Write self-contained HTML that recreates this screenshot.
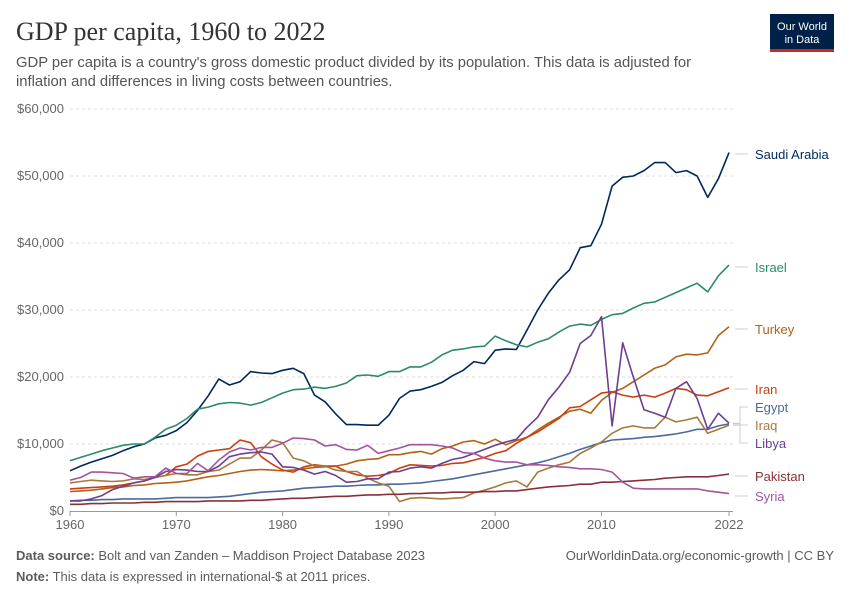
<!DOCTYPE html>
<html><head><meta charset="utf-8">
<style>
body{margin:0;background:#fff;width:850px;height:600px;overflow:hidden;font-family:"Liberation Sans",sans-serif;}
svg text{font-family:"Liberation Sans",sans-serif;}
svg text.serif{font-family:"Liberation Serif",serif;}
</style></head>
<body>
<svg id="chart" width="850" height="600" viewBox="0 0 850 600">
<text class="serif" x="16" y="40" font-size="26" fill="#333" style="font-family:'Liberation Serif',serif">GDP per capita, 1960 to 2022</text>
<text x="16" y="67" font-size="14.8" fill="#555">GDP per capita is a country's gross domestic product divided by its population. This data is adjusted for</text>
<text x="16" y="86" font-size="14.8" fill="#555">inflation and differences in living costs between countries.</text>
<g>
<rect x="770" y="14" width="64" height="38" fill="#002147"/>
<rect x="770" y="49" width="64" height="3" fill="#ce261e"/>
<text x="802" y="30" font-size="11" fill="#fff" text-anchor="middle">Our World</text>
<text x="802" y="43" font-size="11" fill="#fff" text-anchor="middle">in Data</text>
</g>
<g id="grid"></g><g id="series"></g><g id="labels"></g>
<text x="16" y="560" font-size="13" fill="#5b5b5b"><tspan font-weight="bold">Data source:</tspan> Bolt and van Zanden – Maddison Project Database 2023</text>
<text x="16" y="581" font-size="13" fill="#5b5b5b"><tspan font-weight="bold">Note:</tspan> This data is expressed in international-$ at 2011 prices.</text>
<text x="834" y="560" font-size="13" fill="#5b5b5b" text-anchor="end">OurWorldinData.org/economic-growth | CC BY</text>
</svg>
<script>
const startYear = 1960;
const yTicks = [0,10000,20000,30000,40000,50000,60000];
const yTickLabels = ["$0","$10,000","$20,000","$30,000","$40,000","$50,000","$60,000"];
const xTicks = [1960,1970,1980,1990,2000,2010,2022];
const saudi = [6000,6700,7300,7800,8300,9000,9600,10000,10900,11300,12000,13200,15000,17200,19700,18800,19300,20800,20600,20500,21000,21300,20500,17300,16300,14500,12900,12900,12800,12800,14300,16800,17900,18100,18600,19200,20200,21000,22300,22000,24000,24200,24100,27000,30000,32500,34500,36000,39300,39600,42800,48500,49800,50000,50800,52000,52000,50500,50800,50000,46800,49600,53500];
const israel = [7500,8000,8500,9000,9400,9800,10000,10000,11000,12200,12800,13800,15200,15500,16000,16200,16100,15800,16200,16900,17600,18100,18200,18500,18300,18600,19100,20200,20300,20100,20800,20800,21500,21500,22200,23300,24000,24200,24500,24600,26100,25400,24800,24500,25200,25700,26700,27600,27900,27700,28600,29300,29500,30300,31000,31200,31900,32600,33300,34000,32700,35100,36700];
const turkey = [2900,3000,3100,3300,3500,3600,3800,3900,4100,4200,4300,4500,4800,5100,5300,5600,5900,6100,6200,6100,6000,6100,6300,6500,6600,6700,7000,7500,7700,7800,8400,8400,8700,8900,8500,9300,9700,10300,10500,10000,10700,9900,10500,11000,12100,13100,14000,14900,15200,14600,16500,17700,18300,19300,20300,21300,21800,23000,23400,23300,23600,26200,27500];
const iran = [3300,3400,3500,3600,3700,3900,4200,4500,5000,5300,6600,7000,8200,8900,9100,9300,10600,10200,8100,7000,6100,5800,6600,6900,6700,6700,5900,5400,5200,5300,5600,6400,6900,6800,6700,6800,7100,7200,7600,8000,8600,9000,10100,11000,11800,12800,13800,15400,15600,16600,17600,17800,17300,17000,17300,17000,17600,18300,18100,17300,17200,17800,18400];
const egypt = [1500,1600,1600,1700,1700,1800,1800,1800,1800,1900,2000,2000,2000,2000,2100,2200,2400,2600,2800,2900,3000,3200,3400,3500,3600,3700,3700,3800,3900,3900,4000,4000,4100,4200,4400,4600,4800,5100,5400,5700,6000,6300,6600,6900,7200,7600,8100,8600,9200,9700,10200,10600,10700,10800,11000,11100,11300,11500,11800,12200,12200,12700,13000];
const iraq = [4200,4400,4600,4500,4400,4500,4800,4700,5000,5300,5600,5400,5400,5900,6100,7000,7900,7900,9100,10600,10200,7900,7500,6700,6700,6100,5900,5900,4900,4200,3700,1400,1900,2000,1900,1800,1900,2000,2700,3100,3600,4200,4500,3600,5800,6400,6900,7300,8600,9400,10300,11600,12400,12700,12400,12400,14000,13300,13600,14000,11600,12200,12800];
const libya = [1500,1500,1800,2300,3200,3700,4200,4500,5000,5900,6200,6100,5900,5900,6700,8100,8500,8700,8800,8500,6600,6500,6100,5500,5900,5300,4300,4400,4800,4800,5800,5900,6400,6600,6400,7100,7700,8000,8600,9200,9800,10300,10700,12500,14000,16600,18500,20700,25000,26200,29000,12700,25100,20000,15100,14600,14000,18300,19300,16800,12200,14600,13100];
const pakistan = [1000,1000,1100,1100,1200,1200,1200,1300,1300,1400,1400,1400,1400,1500,1500,1500,1500,1600,1600,1700,1800,1900,1900,2000,2100,2200,2200,2300,2400,2400,2500,2500,2600,2600,2700,2700,2800,2800,2800,2900,2900,3000,3000,3200,3400,3600,3700,3800,4000,4000,4300,4300,4400,4500,4600,4700,4900,5000,5100,5100,5100,5300,5500];
const syria = [4600,5000,5800,5800,5700,5600,4900,5100,5100,6400,5600,5600,7100,6000,7600,8800,9400,9100,9500,9500,10100,10900,10800,10600,9700,9900,9200,9100,9800,8600,9000,9400,9900,9900,9900,9700,9400,8700,8600,7900,7500,7300,7300,6900,6900,6800,6600,6500,6300,6300,6200,5800,4300,3400,3300,3300,3300,3300,3300,3300,3000,2800,2600];

const X0=70,X1=729,Y0=511,Y1=109;
const xs=y=>X0+(y-1960)*(X1-X0)/62;
const ys=v=>Y0-v*(Y0-Y1)/60000;
const NS="http://www.w3.org/2000/svg";
function mk(t,a,p){const e=document.createElementNS(NS,t);for(const k in a)e.setAttribute(k,a[k]);p.appendChild(e);return e;}
const grid=document.getElementById('grid');
yTicks.forEach((v,i)=>{
  if(v>0){const l=mk('line',{x1:X0,x2:733,y1:ys(v),y2:ys(v),stroke:'#ddd','stroke-dasharray':'3,3'},grid);
  
  }
  const t=mk('text',{x:64,y:ys(v)+4,'font-size':13,fill:'#666','text-anchor':'end'},grid);
  t.textContent=yTickLabels[i];
  
  
});
const ax=mk('line',{x1:X0,x2:733,y1:Y0+0.5,y2:Y0+0.5,stroke:'#999'},grid);


xTicks.forEach(y=>{
  mk('line',{x1:xs(y),x2:xs(y),y1:Y0,y2:Y0+5,stroke:'#999'},grid);
  const t=mk('text',{x:xs(y),y:Y0+18,'font-size':13,fill:'#666','text-anchor':'middle'},grid);
  t.textContent=y;
  
  
});
const seriesList=[
 ['Saudi Arabia',saudi,'#00295B',154],['Israel',israel,'#2d8a68',267],['Turkey',turkey,'#B16214',329],
 ['Iran',iran,'#c8400f',389],['Egypt',egypt,'#4C6A9C',407],['Iraq',iraq,'#a8793f',425],
 ['Libya',libya,'#6D3E91',443],['Pakistan',pakistan,'#883039',476],['Syria',syria,'#A2559C',496]];
const sg=document.getElementById('series'),lg=document.getElementById('labels');
seriesList.forEach(([name,data,col,ly])=>{
  const d=data.map((v,i)=>(i?'L':'M')+xs(startYear+i).toFixed(1)+','+ys(v).toFixed(1)).join('');
  const p=mk('path',{d:d,fill:'none',stroke:col,'stroke-width':1.6,'stroke-linejoin':'round'},sg);
  
  
  const endY=ys(data[data.length-1]);
  if(['Egypt','Iraq','Libya'].includes(name)){
    mk('path',{d:`M733,${endY}H740V${ly}H748`,fill:'none',stroke:'#ccc'},lg);
  } else {
    mk('line',{x1:735,x2:748,y1:ly,y2:ly,stroke:'#ccc'},lg);
  }
  const t=mk('text',{x:755,y:ly+5,'font-size':13,fill:col},lg);
  t.textContent=name;
  
  
});
</script>
</body></html>
